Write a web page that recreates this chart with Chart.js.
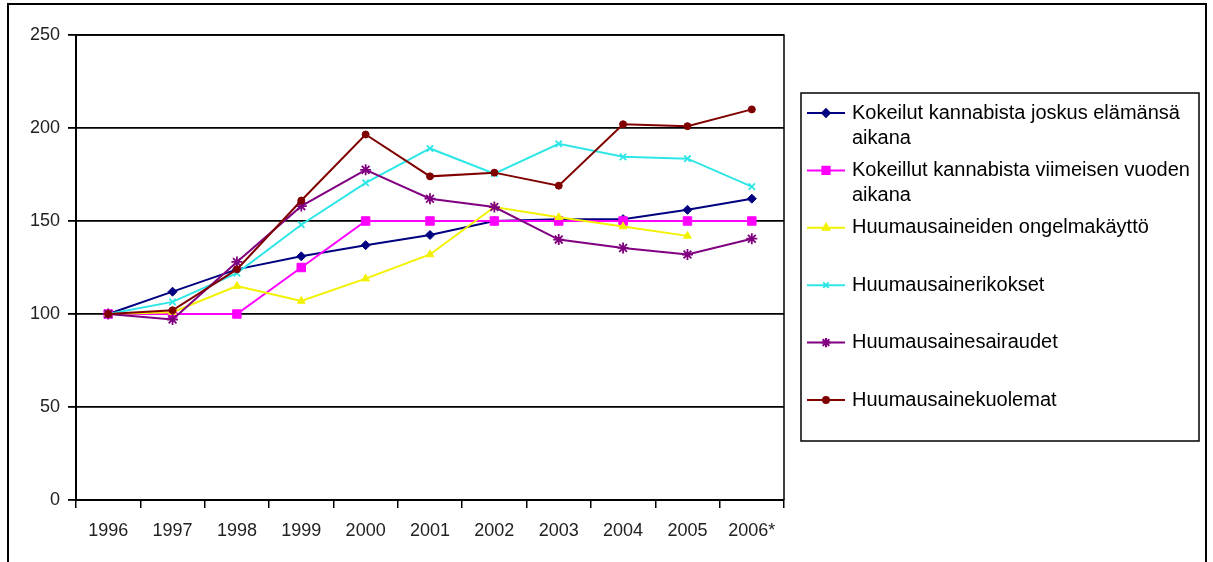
<!DOCTYPE html>
<html>
<head>
<meta charset="utf-8">
<script src="https://cdn.jsdelivr.net/npm/chart.js@4.4.1/dist/chart.umd.min.js"></script>
<style>
    html, body { margin: 0; padding: 0; background: #fff; }
    #wrap { position: relative; width: 1213px; height: 562px; }
</style>
</head>
<body>
<div id="wrap"><canvas id="huumeChart" width="1213" height="562"></canvas></div>
<script>
const years = ["1996", "1997", "1998", "1999", "2000", "2001", "2002", "2003", "2004", "2005", "2006*"];

const kannabisJoskus   = [100, 112, 124, 131, 137, 142.5, 150, 151, 151, 156, 162];
const kannabisVuosi    = [100, 100, 100, 125, 150, 150, 150, 150, 150, 150, 150];
const ongelmakaytto    = [100, 101, 115, 107, 119, 132, 157.5, 152, 147, 142, null];
const rikokset         = [100, 106.5, 122, 148, 170.5, 189, 175.5, 191.5, 184.5, 183.5, 168.5];
const sairaudet        = [100, 97, 128, 158, 177.5, 162, 157.5, 140, 135.5, 132, 140.5];
const kuolemat         = [100, 102, 124, 161, 196.5, 174, 176, 169, 202, 201, 210];

// legend text, already split into rows as in the original
const seriesNames = [
    ["Kokeilut kannabista joskus elämänsä", "aikana"],
    ["Kokeillut kannabista viimeisen vuoden", "aikana"],
    ["Huumausaineiden ongelmakäyttö"],
    ["Huumausainerikokset"],
    ["Huumausainesairaudet"],
    ["Huumausainekuolemat"]
];

const yTicks = [0, 50, 100, 150, 200, 250];

function serie(i, values, color, style, radius) {
    return {
        label: seriesNames[i].join(" "),
        data: values,
        borderColor: color,
        backgroundColor: color,
        borderWidth: 2,
        pointStyle: style,
        pointRadius: radius,
        pointBorderWidth: style === "crossRot" || style === "star" ? 1.8 : 1,
        pointBorderColor: color,
        pointBackgroundColor: color,
        tension: 0,
        spanGaps: false,
        order: 5 - i
    };
}

// frame round whole picture + plot area border + legend box
const excelFrame = {
    id: "excelFrame",
    beforeDatasetsDraw(chart) {
        const { ctx, chartArea } = chart;
        ctx.save();
        ctx.strokeStyle = "#000";
        ctx.lineWidth = 1.5;
        ctx.beginPath();
        ctx.moveTo(chartArea.left, chartArea.top);
        ctx.lineTo(chartArea.right, chartArea.top);
        ctx.lineTo(chartArea.right, chartArea.bottom);
        ctx.stroke();
        ctx.restore();
    },
    afterDraw(chart) {
        const ctx = chart.ctx;
        ctx.save();
        ctx.strokeStyle = "#000";
        ctx.lineWidth = 2;
        ctx.strokeRect(8, 4, 1198, 566);

        // legend
        const box = { x: 801, y: 93, w: 398, h: 348 };
        ctx.lineWidth = 1.5;
        ctx.strokeRect(box.x, box.y, box.w, box.h);

        ctx.font = "20px 'Liberation Sans', Arial, sans-serif";
        ctx.textBaseline = "middle";
        chart.data.datasets.forEach((ds, i) => {
            const cy = box.y + 20 + i * 57.4;
            ctx.strokeStyle = ds.borderColor;
            ctx.fillStyle = ds.backgroundColor;
            ctx.lineWidth = 2;
            ctx.beginPath();
            ctx.moveTo(box.x + 6, cy);
            ctx.lineTo(box.x + 44, cy);
            ctx.stroke();
            Chart.helpers.drawPoint(ctx, {
                pointStyle: ds.pointStyle,
                radius: ds.pointRadius * 0.85,
                borderWidth: ds.pointBorderWidth
            }, box.x + 25, cy);
            ctx.fillStyle = "#000";
            seriesNames[i].forEach((row, r) => {
                ctx.fillText(row, box.x + 51, cy + r * 25);
            });
        });
        ctx.restore();
    }
};

const ctx = document.getElementById("huumeChart").getContext("2d");

const huumeChart = new Chart(ctx, {
    type: "line",
    data: {
        labels: years,
        datasets: [
            serie(0, kannabisJoskus, "#000080", "rectRot", 4.5),
            serie(1, kannabisVuosi, "#ff00ff", "rect", 6),
            serie(2, ongelmakaytto, "#f2f200", "triangle", 4.5),
            serie(3, rikokset, "#2ee6e6", "crossRot", 4.5),
            serie(4, sairaudet, "#800080", "star", 5.5),
            serie(5, kuolemat, "#800000", "circle", 3.5)
        ]
    },
    options: {
        responsive: false,
        devicePixelRatio: 1,
        animation: false,
        layout: {
            padding: { left: 0, top: 35, right: 429, bottom: 0 }
        },
        plugins: {
            legend: { display: false },
            tooltip: { enabled: false }
        },
        scales: {
            x: {
                offset: true,
                grid: {
                    offset: true,
                    drawOnChartArea: false,
                    drawTicks: true,
                    tickLength: 8,
                    color: "#000",
                    lineWidth: 1.5
                },
                border: { color: "#000", width: 2 },
                ticks: {
                    color: "#222",
                    padding: 12,
                    maxRotation: 0,
                    autoSkip: false,
                    font: { family: "'Liberation Sans', Arial, sans-serif", size: 18 }
                },
                afterFit(scale) { scale.height = 62; }
            },
            y: {
                min: 0,
                max: 250,
                afterBuildTicks(scale) {
                    scale.ticks = yTicks.map(v => ({ value: v }));
                },
                grid: {
                    color: "#000",
                    lineWidth: 1.8,
                    tickLength: 8
                },
                border: { color: "#000", width: 2 },
                ticks: {
                    color: "#222",
                    padding: 8,
                    font: { family: "'Liberation Sans', Arial, sans-serif", size: 18 }
                },
                afterFit(scale) { scale.width = 76; }
            }
        }
    },
    plugins: [excelFrame]
});
</script>
</body>
</html>
